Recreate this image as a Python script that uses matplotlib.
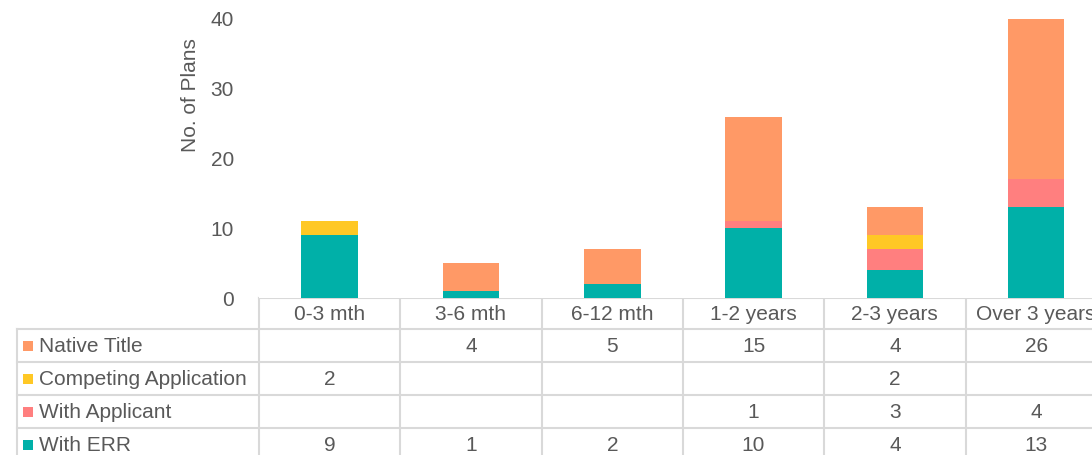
import numpy as np
import matplotlib.pyplot as plt

plt.rcParams['font.family'] = ['Liberation Sans', 'DejaVu Sans']

categories = ['0-3 mth', '3-6 mth', '6-12 mth', '1-2 years', '2-3 years', 'Over 3 years']
series = ['Native Title', 'Competing Application', 'With Applicant', 'With ERR']
native_title = [0, 4, 5, 15, 4, 26]
competing = [2, 0, 0, 0, 2, 0]
with_applicant = [0, 0, 0, 1, 3, 4]
with_err = [9, 1, 2, 10, 4, 13]
colors = {'Native Title': '#FF9966', 'Competing Application': '#FFC825',
          'With Applicant': '#FF7F7F', 'With ERR': '#00B0A8'}

values = {'Native Title': native_title, 'Competing Application': competing,
          'With Applicant': with_applicant, 'With ERR': with_err}

W, H = 1092, 455
fig = plt.figure(figsize=(W / 100, H / 100), dpi=100)

# pixel layout (Excel style chart with data table)
left, colw = 259, 141.3
top, base = 19, 298
rowh = 33
text_col = '#595959'
line_col = '#D9D9D9'
fs = 15

ax = fig.add_axes([left / W, (H - base) / H, len(categories) * colw / W, (base - top) / H])
x = np.arange(len(categories))
bottom = np.zeros(len(categories))
for name in ['With ERR', 'With Applicant', 'Competing Application', 'Native Title']:
    v = np.array(values[name])
    ax.bar(x, v, 0.4, bottom=bottom, color=colors[name], zorder=2)
    bottom += v
ax.set_xlim(-0.5, len(categories) - 0.5)
ax.set_ylim(0, 40)
ax.set_yticks([0, 10, 20, 30, 40])
ax.set_xticks([])
ax.tick_params(axis='y', length=0, pad=18, labelsize=fs, labelcolor=text_col)
for s in ax.spines.values():
    s.set_visible(False)

fig.text(190 / W, 1 - 95 / H, 'No. of Plans', rotation=90, ha='center', va='center',
         fontsize=fs, color=text_col)

# data table in pixel coords
ov = fig.add_axes([0, 0, 1, 1], zorder=-1)
ov.set_xlim(0, W)
ov.set_ylim(H, 0)
ov.axis('off')

ncol = len(categories)
right = left + ncol * colw
hdr_bot = base + 31
lw = 1.5
ov.plot([left, right], [base, base], color=line_col, lw=lw)
ov.plot([17, right], [hdr_bot, hdr_bot], color=line_col, lw=lw)
for i in range(len(series)):
    y = hdr_bot + (i + 1) * rowh
    ov.plot([17, right], [y, y], color=line_col, lw=lw)
ov.plot([17, 17], [hdr_bot, H + 5], color=line_col, lw=lw)
for j in range(ncol + 1):
    xx = left + j * colw
    ov.plot([xx, xx], [base, H + 5], color=line_col, lw=lw)

for j, cat in enumerate(categories):
    ov.text(left + (j + 0.5) * colw, (base + hdr_bot) / 2 + 1, cat, ha='center', va='center',
            fontsize=fs, color=text_col)

for i, name in enumerate(series):
    yc = hdr_bot + (i + 0.5) * rowh
    ov.add_patch(plt.Rectangle((23, yc - 5), 10, 10, color=colors[name], lw=0))
    ov.text(39, yc + 1, name, ha='left', va='center', fontsize=fs, color=text_col)
    for j, v in enumerate(values[name]):
        if v:
            ov.text(left + (j + 0.5) * colw, yc + 1, str(v), ha='center', va='center',
                    fontsize=fs, color=text_col)

fig.savefig('out.png', dpi=100)
